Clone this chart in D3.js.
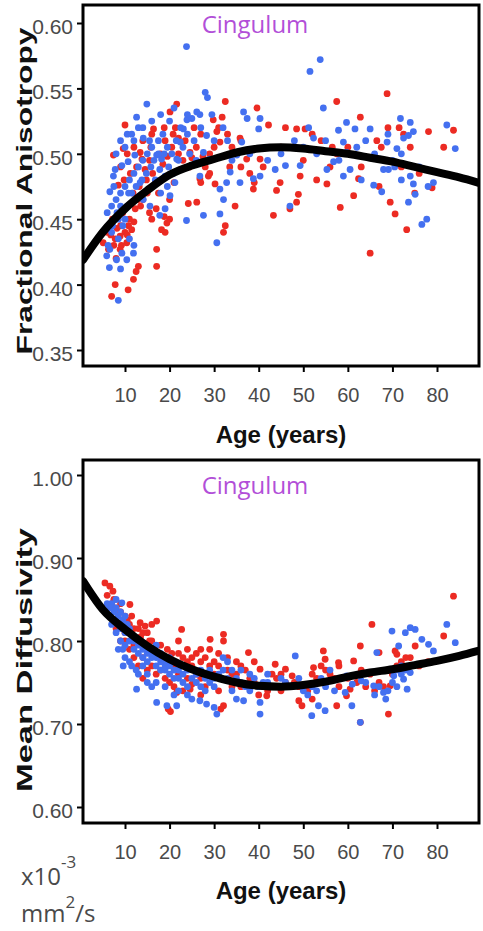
<!DOCTYPE html>
<html><head><meta charset="utf-8">
<script src="https://cdn.jsdelivr.net/npm/d3@7"></script>
<style>html,body{margin:0;padding:0;background:#fff;}svg{display:block;}</style>
</head><body>
<script>
// ---------- data ----------
const xTicks = [10,20,30,40,50,60,70,80];
const faTicks = [0.35,0.40,0.45,0.50,0.55,0.60];
const mdTicks = [0.60,0.70,0.80,0.90,1.00];

const faRed = [[5.1,.432],[6.3,.427],[7.8,.435],[8.9,.437],[10,.44],[10.4,.432],[8.9,.427],[11.5,.442],[6.5,.445],[7.2,.45],[9.5,.455],[11,.45],[12.3,.458],[7,.391],[7.8,.40],[10.7,.396],[11.9,.404],[13,.414],[12.5,.41],[17.1,.414],[17.1,.427],[18.2,.442],[19.4,.447],[18.8,.452],[10,.522],[7.4,.499],[9.6,.504],[13.4,.501],[15.5,.495],[16.4,.519],[20.1,.532],[22,.512],[24.6,.501],[24.2,.462],[26.1,.463],[26.8,.481],[28.7,.483],[30.2,.477],[30.6,.517],[29.8,.526],[31.3,.509],[32.8,.499],[35.8,.512],[37.3,.496],[40.3,.496],[41,.49],[8.5,.476],[9.8,.48],[11.2,.485],[12.6,.49],[13.8,.496],[14.5,.488],[15.8,.505],[16.8,.478],[17.5,.47],[18.5,.492],[19.5,.498],[20.5,.505],[21.3,.52],[22.5,.488],[23,.495],[14,.465],[15,.47],[13.2,.475],[16,.45],[17,.458],[20,.465],[21,.478],[25.5,.52],[27,.515],[28,.49],[29,.5],[30,.505],[31,.52],[31.8,.528],[33,.515],[32.5,.54],[34,.505],[36,.49],[38,.485],[39,.478],[39.6,.535],[42.2,.522],[44,.472],[46,.52],[48.5,.519],[50.4,.519],[43.3,.453],[44.8,.478],[47,.458],[48.5,.463],[48.9,.469],[49.3,.483],[52,.515],[54,.51],[55.3,.477],[56,.49],[57.5,.54],[57.5,.5],[58.3,.459],[60,.505],[61.3,.468],[62.4,.481],[62.8,.528],[65,.424],[66.5,.51],[67.5,.505],[68.8,.546],[69,.52],[69.5,.463],[70.6,.454],[71.5,.52],[72.5,.515],[73.2,.442],[74,.505],[75,.47],[78.1,.517],[78.9,.474],[81.5,.505],[83.7,.518],[38.8,.473],[34.7,.46],[32.1,.44],[32.5,.445],[21.6,.538],[36,.51],[25,.497],[26,.505],[27.5,.498],[6,.44],[7.5,.43],[9,.445],[10.5,.438],[8,.42],
[6.8,.438],[8.2,.443],[9.2,.43],[10.8,.445],[12,.448],[13.5,.46],[14.8,.48],[16.2,.485],[18,.5],[19,.51],[20.8,.515],[22,.5],[23.5,.51],[9,.49],[10.5,.5],[12,.505],[14,.51],[16,.515],[18.8,.52],[11.8,.47],[13,.465],[15.5,.455],[19,.44],[20,.45],[24.5,.49],[27,.478],[29,.485],[33.5,.49],[45,.505],[50,.495],[53,.48],[56.5,.505],[63,.49],[67,.475],[72,.49],[76,.485]];

const faBlue = [[5.9,.422],[6.6,.427],[8.1,.419],[8.5,.388],[9.3,.424],[10.4,.419],[11.9,.424],[6.6,.471],[7.4,.483],[7.8,.488],[9.3,.491],[10.7,.494],[12.2,.499],[12.6,.528],[14.9,.538],[14.1,.512],[15.5,.51],[17.1,.499],[18.2,.496],[17.8,.488],[19,.483],[13.4,.478],[14.1,.465],[15.6,.46],[17.8,.453],[19,.458],[20.1,.468],[21.2,.478],[21.6,.496],[22.4,.509],[23.1,.519],[23.9,.526],[25,.527],[26.1,.532],[26.8,.53],[28.3,.514],[27.6,.501],[29,.496],[26.8,.483],[23.8,.449],[27.6,.453],[31.3,.454],[32.1,.465],[31.3,.473],[32.8,.478],[33.6,.486],[35.1,.499],[36.2,.509],[36.6,.532],[37.4,.527],[40.3,.527],[40,.519],[35.8,.478],[38.8,.481],[40.3,.483],[43.7,.488],[46,.491],[47,.46],[49.3,.491],[51.2,.52],[52.3,.512],[55.3,.488],[56.8,.494],[57.9,.518],[59,.509],[59.7,.524],[59.7,.501],[60.5,.488],[61.6,.519],[59,.483],[65,.519],[65.8,.476],[67.6,.471],[67.3,.496],[68.8,.509],[68,.488],[69.1,.488],[70.5,.49],[71,.504],[71.8,.527],[72.5,.512],[73.6,.514],[74,.524],[74.7,.517],[74,.483],[74.7,.477],[75.1,.469],[73.6,.463],[76.6,.446],[77.7,.45],[79.2,.478],[82.2,.522],[84.1,.504],[23.8,.582],[51.5,.563],[53.8,.572],[28,.547],[28.5,.543],[54.5,.535],[30.6,.432],[6,.455],[7,.46],[8,.465],[9,.47],[10,.475],[11,.48],[12,.485],[8.5,.45],[9.5,.445],[10.5,.46],[11.5,.47],[7.5,.475],[13,.49],[14,.495],[15,.5],[16,.505],[16.5,.495],[17.5,.51],[18.5,.515],[19.5,.505],[20.5,.5],[21.5,.51],[22.5,.52],[24,.515],[25.5,.51],[11,.435],[12,.43],[7,.44],[8.5,.435],[6.5,.413],[9,.412],[10,.505],[11.5,.515],[13,.52],[18,.47],[19.5,.475],[30,.51],[32,.52],[34,.495],[45,.5],[50,.505],[53,.5],[62,.505],[64,.51],[66,.5],[70,.495],[72,.5],[76,.49],[78,.475],
[6.2,.43],[7.2,.445],[8.2,.455],[9,.46],[10,.45],[10.8,.47],[12.5,.475],[13.8,.48],[14.8,.485],[15.8,.49],[16.8,.48],[17.5,.5],[18.8,.5],[19.8,.49],[20.8,.485],[22,.495],[23,.505],[24.5,.5],[26,.495],[8,.5],[9,.51],[10.5,.515],[12,.51],[14,.52],[16,.525],[18,.53],[20,.525],[21,.535],[24,.53],[27,.52],[29.5,.53],[33,.51],[38,.5],[42,.495],[48,.51],[55,.51],[58,.495],[63,.48],[69,.515],[72,.48]];

const mdRed = [[5.5,.870],[6.6,.866],[7.3,.86],[11.1,.844],[13.4,.822],[14.5,.818],[17.1,.824],[22.7,.814],[29.1,.802],[32.1,.808],[32.1,.80],[37.7,.786],[40.3,.766],[43.7,.772],[46,.766],[47.5,.758],[49,.728],[49.7,.722],[41.8,.734],[32.1,.722],[31.5,.718],[19.7,.718],[20.2,.715],[21.6,.738],[24.6,.742],[57.5,.722],[59.7,.734],[60.5,.742],[62.8,.794],[61.3,.776],[57.9,.774],[54.5,.788],[54.9,.778],[52.3,.768],[65.4,.82],[69.1,.712],[69.5,.746],[70.6,.788],[71,.784],[75.1,.794],[81.5,.806],[83.7,.854],[62.8,.702],[67,.786],[7,.845],[8,.84],[9,.835],[10,.83],[11,.82],[12,.815],[10,.81],[12.5,.8],[13.5,.805],[14,.795],[15,.81],[16,.8],[16.5,.79],[17,.785],[18,.78],[19,.78],[20,.775],[21,.77],[22,.785],[23,.78],[24,.775],[25,.77],[26,.785],[27,.775],[28,.78],[29,.79],[30,.775],[31,.77],[33,.765],[34,.76],[35,.775],[36,.77],[38,.755],[39,.75],[41,.745],[42,.74],[44,.755],[45,.76],[48,.75],[50,.745],[51,.74],[53,.755],[55,.765],[56,.76],[58,.77],[60,.755],[62,.75],[66,.74],[68,.745],[70,.76],[72,.775],[74,.78],[76,.77],[78,.775],[12,.78],[13,.77],[15,.765],[17,.76],[19,.755],[21,.745],[23,.74],[25,.748],[27,.735],[14,.755],[9,.8],[8,.815],[11,.79],[26,.76],[28,.745],[36,.745],[40,.735],[45,.74],[52,.73],[58,.745],[64,.745],
[6,.855],[7.5,.85],[9,.845],[10.5,.825],[11.5,.83],[13,.815],[14,.81],[15.5,.8],[16,.82],[18,.795],[19.5,.79],[20.5,.785],[22,.8],[24,.79],[25,.78],[27,.79],[29,.77],[30,.76],[31,.785],[33,.78],[35,.76],[37,.765],[39,.775],[43,.76],[46,.75],[49,.745],[52,.76],[54,.77],[57,.755],[63,.765],[65,.76],[67,.75],[71,.77],[73,.78],[10,.8],[12,.795],[14,.78],[16,.77],[18,.765],[20,.75],[22,.76],[24,.755],[27,.755],[31,.74],[34,.745]];

const mdBlue = [[9.3,.846],[8,.85],[7,.845],[9.6,.77],[12.6,.742],[17.1,.726],[19.4,.722],[21.6,.722],[26.8,.728],[28.3,.724],[30.6,.712],[36.6,.728],[40.3,.712],[40.3,.726],[48.2,.782],[51.9,.71],[54.9,.716],[53.4,.722],[60.9,.722],[59.4,.738],[62.8,.702],[59.7,.758],[65.8,.746],[66.5,.786],[68,.738],[69.9,.812],[71.4,.794],[72.9,.81],[74,.816],[75.1,.814],[73.3,.742],[76.6,.802],[78.1,.796],[79.2,.788],[82.2,.82],[84.1,.798],[74,.762],[72.5,.754],[70.3,.758],[6.5,.84],[7.5,.835],[8.5,.83],[9.5,.825],[10.5,.82],[7,.82],[8,.81],[9,.8],[10,.795],[11,.8],[12,.79],[13,.785],[14,.78],[15,.775],[16,.78],[17,.77],[18,.765],[19,.77],[20,.76],[21,.765],[22,.755],[23,.76],[24,.765],[25,.755],[26,.75],[27,.745],[28,.755],[29,.75],[30,.745],[31,.76],[32,.78],[33,.775],[34,.765],[35,.755],[36,.75],[37,.745],[38,.74],[39,.755],[41,.75],[42,.76],[44,.745],[46,.75],[50,.74],[52,.745],[54,.755],[56,.765],[57,.74],[61,.748],[63,.752],[67,.745],[68.5,.73],[70,.75],[71,.765],[72,.77],[73,.765],[11,.81],[12,.805],[13,.8],[14,.795],[15,.79],[16,.785],[17,.795],[18,.785],[19,.775],[20,.78],[10,.78],[11.5,.77],[13,.76],[15,.75],[16,.745],[22,.74],[24,.735],[25,.73],[8.5,.79],[35,.73],[30,.72],
[6,.845],[7,.84],[8,.84],[9,.835],[10,.83],[8,.825],[9,.815],[10,.81],[11,.815],[12,.8],[13,.795],[14,.79],[15,.785],[16,.79],[17,.78],[18,.775],[19,.765],[20,.77],[21,.755],[22,.765],[23,.75],[24,.745],[26,.76],[27,.765],[28,.74],[29,.765],[30,.755],[32,.765],[33,.755],[34,.74],[36,.765],[38,.76],[40,.745],[42,.75],[45,.755],[47,.745],[49,.755],[51,.735],[53,.74],[55,.745],[58,.755],[64,.75],[66,.735],[69,.74],[71,.745],[72,.76],[74,.77],[9.5,.79],[11,.775],[12.5,.765],[14,.77],[15,.76],[17,.75],[19,.745],[21,.735]];

const fitAge = [0.6,5,10,15,20,25,30,35,40,45,50,55,60,65,70,75,80,85,89.2];
const faFit  = [.419,.440,.458,.472,.484,.491,.496,.501,.504,.505,.504,.502,.500,.497,.494,.490,.486,.482,.478];
const mdFit  = [.872,.838,.814,.794,.778,.766,.757,.750,.746,.745,.747,.751,.757,.762,.766,.771,.776,.782,.788];

// ---------- drawing ----------
const W = 483, H = 931;
const svg = d3.select("body").append("svg").attr("width", W).attr("height", H);
const RED = "#ec2b23", BLUE = "#4470f0", PURPLE = "#b24fd8", GRAY = "#4a4a4a";
const x = d3.scaleLinear().domain([10,80]).range([125,437]);

function panel(o) {
  const g = svg.append("g");
  const y = d3.scaleLinear().domain(o.ydom).range(o.yrng);
  const clipId = "clip" + o.id;
  svg.append("clipPath").attr("id", clipId).append("rect")
    .attr("x", o.left).attr("y", o.top).attr("width", o.right - o.left).attr("height", o.bottom - o.top);
  const pts = g.append("g").attr("clip-path", `url(#${clipId})`);
  pts.selectAll("circle.r").data(o.red).join("circle").attr("class","r")
    .attr("cx", d => x(d[0])).attr("cy", d => y(d[1])).attr("r", 3.4).attr("fill", RED);
  pts.selectAll("circle.b").data(o.blue).join("circle").attr("class","b")
    .attr("cx", d => x(d[0])).attr("cy", d => y(d[1])).attr("r", 3.4).attr("fill", BLUE);
  const line = d3.line().x(d => x(d[0])).y(d => y(d[1])).curve(d3.curveMonotoneX);
  pts.append("path").datum(fitAge.map((a,i) => [a, o.fit[i]]))
    .attr("d", line).attr("fill", "none").attr("stroke", "#000").attr("stroke-width", 8).attr("stroke-linecap","round");
  // frame
  g.append("rect").attr("x", o.left).attr("y", o.top).attr("width", o.right - o.left).attr("height", o.bottom - o.top)
    .attr("fill", "none").attr("stroke", "#000").attr("stroke-width", 3);
  // y axis
  const ya = d3.axisLeft(y).tickValues(o.yticks).tickFormat(d3.format(".2f")).tickSize(6).tickPadding(4);
  const yg = g.append("g").attr("transform", `translate(${o.left},0)`).call(ya);
  yg.select(".domain").remove();
  yg.selectAll(".tick line").attr("stroke", "#000").attr("stroke-width", 2);
  yg.selectAll(".tick text").attr("font-family", "Liberation Sans, Arial, sans-serif").attr("font-size", 21)
    .attr("fill", GRAY).attr("dy", "0.5em");
  // x axis
  const xa = d3.axisBottom(x).tickValues(xTicks).tickSize(6).tickPadding(16);
  const xg = g.append("g").attr("transform", `translate(0,${o.bottom})`).call(xa);
  xg.select(".domain").remove();
  xg.selectAll(".tick line").attr("stroke", "#000").attr("stroke-width", 2);
  xg.selectAll(".tick text").attr("font-family", "Liberation Sans, Arial, sans-serif").attr("font-size", 20)
    .attr("fill", GRAY);
  // x label
  g.append("text").attr("x", 281).attr("y", o.xlabY).attr("text-anchor", "middle")
    .attr("font-family", "Liberation Sans, Arial, sans-serif").attr("font-weight", "bold").attr("font-size", 24)
    .attr("fill", "#111").text("Age (years)");
  // y label
  g.append("text").attr("transform", `translate(32,${o.ylabC}) rotate(-90)`).attr("text-anchor", "middle")
    .attr("font-family", "Liberation Sans, Arial, sans-serif").attr("font-weight", "bold").attr("font-size", 22)
    .attr("textLength", o.ylabLen).attr("lengthAdjust", "spacingAndGlyphs")
    .attr("fill", "#111").text(o.ylab);
  // title
  g.append("text").attr("x", 255).attr("y", o.titleY).attr("text-anchor", "middle")
    .attr("font-family", "Open Sans, sans-serif").attr("font-size", 24).attr("fill", PURPLE).text("Cingulum");
}

panel({id:1, left:83, right:479, top:5, bottom:366, ydom:[0.35,0.60], yrng:[350,23], yticks:faTicks,
  red:faRed, blue:faBlue, fit:faFit, xlabY:443, ylabC:191, ylabLen:327, ylab:"Fractional Anisotropy", titleY:33});
panel({id:2, left:83, right:479, top:460, bottom:823, ydom:[0.60,1.00], yrng:[807,475], yticks:mdTicks,
  red:mdRed, blue:mdBlue, fit:mdFit, xlabY:899, ylabC:660, ylabLen:264, ylab:"Mean Diffusivity", titleY:494});

// units
const u = svg.append("g").attr("font-family", "Open Sans, sans-serif").attr("fill", GRAY);
const t1 = u.append("text").attr("x", 21).attr("y", 885).attr("font-size", 24);
t1.append("tspan").text("x10");
t1.append("tspan").attr("font-size", 17).attr("dy", -17).text("-3");
const t2 = u.append("text").attr("x", 21).attr("y", 922).attr("font-size", 24);
t2.append("tspan").text("mm");
t2.append("tspan").attr("font-size", 17).attr("dy", -14).text("2");
t2.append("tspan").attr("dy", 14).text("/s");
</script>
</body></html>
